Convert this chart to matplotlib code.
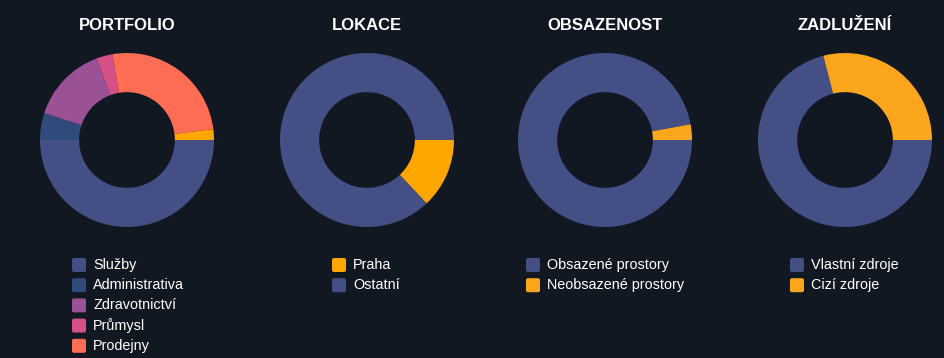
import matplotlib
matplotlib.use("Agg")
import matplotlib.pyplot as plt
from matplotlib.patches import FancyBboxPatch

plt.rcParams['font.family'] = ['Liberation Sans', 'DejaVu Sans']

BG = "#111821"
W, H = 945, 358

titles = ["PORTFOLIO", "LOKACE", "OBSAZENOST", "ZADLUŽENÍ"]

portfolio_labels = ["Služby", "Administrativa", "Zdravotnictví", "Průmysl", "Prodejny", "Ostatní"]
portfolio_values = [50, 5, 14.3, 3, 25.7, 2]
portfolio_colors = ["#444f86", "#2f4b7c", "#9a5195", "#d45087", "#ff6e54", "#ffa600"]

lokace_labels = ["Praha", "Ostatní"]
lokace_values = [13, 87]
lokace_colors = ["#ffa600", "#444f86"]

obsazenost_labels = ["Obsazené prostory", "Neobsazené prostory"]
obsazenost_values = [97.1, 2.9]
obsazenost_colors = ["#444f86", "#fca61e"]

zadluzeni_labels = ["Vlastní zdroje", "Cizí zdroje"]
zadluzeni_values = [71, 29]
zadluzeni_colors = ["#444f86", "#fca61e"]

charts = [
    (portfolio_labels, portfolio_values, portfolio_colors),
    (lokace_labels, lokace_values, lokace_colors),
    (obsazenost_labels, obsazenost_values, obsazenost_colors),
    (zadluzeni_labels, zadluzeni_values, zadluzeni_colors),
]

centers_x = [127, 367, 605, 845]
center_y = 140
R = 87
legend_x = [72, 332, 526, 790]

fig = plt.figure(figsize=(W / 100, H / 100), dpi=100)
fig.patch.set_facecolor(BG)

overlay = fig.add_axes([0, 0, 1, 1])
overlay.set_xlim(0, W)
overlay.set_ylim(H, 0)
overlay.axis("off")

for i, (labels, values, colors) in enumerate(charts):
    cx = centers_x[i]
    ax = fig.add_axes([(cx - R) / W, (H - center_y - R) / H, 2 * R / W, 2 * R / H])
    ax.set_facecolor(BG)
    ax.pie(values, colors=colors, startangle=0, counterclock=False, radius=1,
           wedgeprops=dict(width=0.45, linewidth=0))
    ax.set_xlim(-1, 1)
    ax.set_ylim(-1, 1)
    ax.axis("off")

    overlay.text(cx, 26, titles[i], color="white", fontsize=12, fontweight="bold",
                 ha="center", va="center")

    lx = legend_x[i]
    for j, (lab, col) in enumerate(zip(labels, colors)):
        y = 265 + j * 20.2
        if y + 8 > H:
            break  # legend continues below the visible area, as in the reference
        overlay.add_patch(FancyBboxPatch((lx, y - 7), 14, 14,
                                         boxstyle="round,pad=0,rounding_size=2",
                                         facecolor=col, edgecolor="none"))
        overlay.text(lx + 21, y, lab, color="white", fontsize=10.4,
                     ha="left", va="center")

fig.savefig("out.png", dpi=100, facecolor=BG)
